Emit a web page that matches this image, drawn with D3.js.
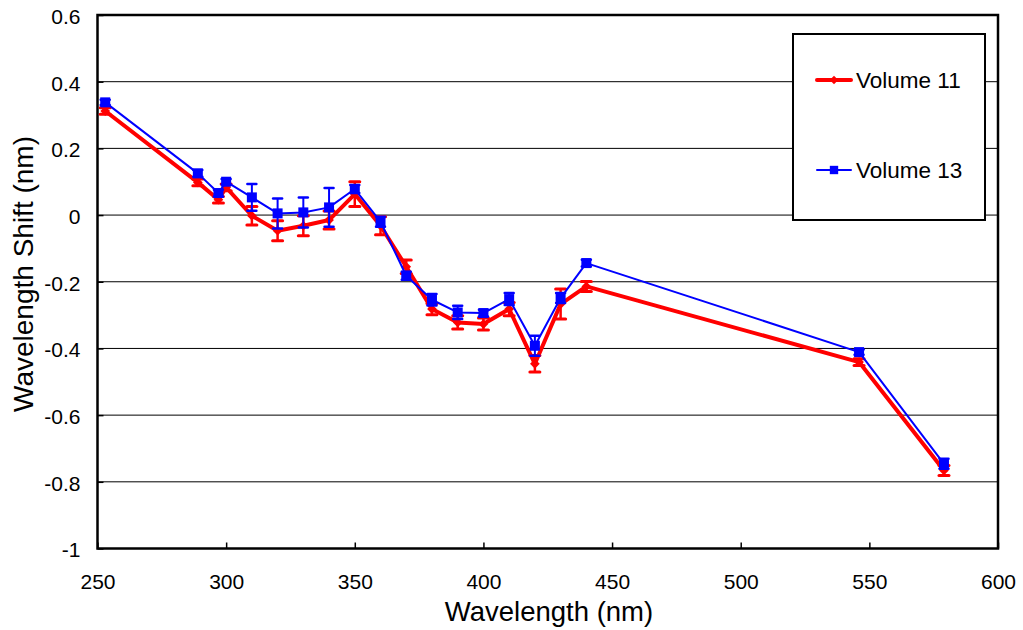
<!DOCTYPE html>
<html>
<head>
<meta charset="utf-8">
<script src="https://cdn.jsdelivr.net/npm/d3@7"></script>
<style>
  body { margin: 0; background: #fff; }
  text { font-family: "Liberation Sans", Arial, sans-serif; fill: #000; }
</style>
</head>
<body>
<div id="chart"></div>
<script>
// wavelengths (nm) and measured shifts
var wavelengths = [253, 289, 297, 300, 310, 320, 330, 340, 350, 360, 370, 380, 390, 400, 410, 420, 430, 440, 546, 579];
var vol11 = [0.312, 0.098, 0.046, 0.083, -0.002, -0.047, -0.032, -0.015, 0.063, -0.032, -0.155, -0.282, -0.322, -0.327, -0.282, -0.446, -0.267, -0.214, -0.441, -0.766];
var err11 = [0.01, 0.01, 0.01, 0.01, 0.028, 0.03, 0.03, 0.027, 0.037, 0.027, 0.02, 0.017, 0.02, 0.018, 0.02, 0.025, 0.045, 0.015, 0.01, 0.015];
var vol13 = [0.338, 0.125, 0.066, 0.1, 0.053, 0.005, 0.008, 0.023, 0.078, -0.02, -0.182, -0.254, -0.292, -0.294, -0.252, -0.392, -0.249, -0.144, -0.411, -0.746];
var err13 = [0.008, 0.01, 0.01, 0.008, 0.04, 0.045, 0.045, 0.058, 0.012, 0.015, 0.012, 0.017, 0.02, 0.01, 0.018, 0.03, 0.015, 0.01, 0.008, 0.015];
var xTicks = [250, 300, 350, 400, 450, 500, 550, 600];
var yTicks = [-1, -0.8, -0.6, -0.4, -0.2, 0, 0.2, 0.4, 0.6];
var seriesNames = ["Volume 11", "Volume 13"];

var svg = d3.select("#chart").append("svg")
  .attr("width", 1023)
  .attr("height", 630);

var plotLeft = 97.5, plotRight = 998, plotTop = 15, plotBottom = 548.5;

var x = d3.scaleLinear().domain([250, 600]).range([plotLeft, plotRight]);
var y = d3.scaleLinear().domain([-1, 0.6]).range([plotBottom, plotTop]);

// horizontal gridlines
svg.append("g").selectAll("line")
  .data(yTicks)
  .enter().append("line")
  .attr("x1", plotLeft).attr("x2", plotRight)
  .attr("y1", function(d) { return y(d); })
  .attr("y2", function(d) { return y(d); })
  .attr("stroke", "#000")
  .attr("stroke-width", 1);

// axes (ticks point inward)
var xAxis = d3.axisBottom(x).tickValues(xTicks).tickSizeInner(-6).tickSizeOuter(0).tickPadding(0).tickFormat(d3.format("d"));
var gx = svg.append("g").attr("transform", "translate(0," + plotBottom + ")").call(xAxis);
gx.select(".domain").remove();
gx.selectAll("line").attr("stroke", "#000").attr("stroke-width", 1.5);
gx.selectAll("text").attr("y", 40).attr("dy", 0).style("font-size", "21px")
  .style("font-family", "Liberation Sans, Arial, sans-serif");

var yAxis = d3.axisLeft(y).tickValues(yTicks).tickSizeInner(-6).tickSizeOuter(0).tickPadding(0)
  .tickFormat(function(d) { return String(+d.toFixed(1)); });
var gy = svg.append("g").attr("transform", "translate(" + plotLeft + ",0)").call(yAxis);
gy.select(".domain").remove();
gy.selectAll("line").attr("stroke", "#000").attr("stroke-width", 1.5);
gy.selectAll("text").attr("x", -17).attr("dy", "0.4em").style("font-size", "21px")
  .style("font-family", "Liberation Sans, Arial, sans-serif");

// frame
svg.append("rect")
  .attr("x", plotLeft).attr("y", plotTop)
  .attr("width", plotRight - plotLeft).attr("height", plotBottom - plotTop)
  .attr("fill", "none").attr("stroke", "#000").attr("stroke-width", 2.5);

// axis titles
svg.append("text")
  .attr("x", 549).attr("y", 621)
  .attr("text-anchor", "middle")
  .style("font-size", "27.5px")
  .text("Wavelength (nm)");

svg.append("text")
  .attr("transform", "translate(33,274) rotate(-90)")
  .attr("text-anchor", "middle")
  .style("font-size", "28px")
  .text("Wavelength Shift (nm)");

var line = d3.line()
  .x(function(d) { return x(d.w); })
  .y(function(d) { return y(d.v); });

function makeData(vals, errs) {
  return wavelengths.map(function(w, i) { return { w: w, v: vals[i], e: errs[i] }; });
}

function drawSeries(data, color, lw, ew, cap, marker, msize) {
  var g = svg.append("g");
  // error bars
  var eb = g.selectAll(".eb").data(data).enter().append("g");
  eb.append("line")
    .attr("x1", function(d) { return x(d.w); }).attr("x2", function(d) { return x(d.w); })
    .attr("y1", function(d) { return y(d.v + d.e); }).attr("y2", function(d) { return y(d.v - d.e); })
    .attr("stroke", color).attr("stroke-width", ew);
  [1, -1].forEach(function(s) {
    eb.append("line")
      .attr("x1", function(d) { return x(d.w) - cap / 2; }).attr("x2", function(d) { return x(d.w) + cap / 2; })
      .attr("y1", function(d) { return y(d.v + s * d.e); }).attr("y2", function(d) { return y(d.v + s * d.e); })
      .attr("stroke", color).attr("stroke-width", ew + 0.5)
      .attr("stroke-linecap", "round");
  });
  g.append("path")
    .datum(data)
    .attr("fill", "none")
    .attr("stroke", color)
    .attr("stroke-width", lw)
    .attr("stroke-linejoin", "round")
    .attr("d", line);
  g.selectAll(".mk").data(data).enter().append("path")
    .attr("transform", function(d) { return "translate(" + x(d.w) + "," + y(d.v) + ")"; })
    .attr("d", d3.symbol().type(marker).size(msize))
    .attr("fill", color);
}

drawSeries(makeData(vol11, err11), "#ff0000", 4, 2.5, 10, d3.symbolDiamond2, 60);
drawSeries(makeData(vol13, err13), "#0000ff", 2, 2, 9, d3.symbolSquare, 100);

// legend
var legend = svg.append("g");
legend.append("rect")
  .attr("x", 793).attr("y", 34).attr("width", 192).attr("height", 186)
  .attr("fill", "#fff").attr("stroke", "#000").attr("stroke-width", 2);

var legendItems = [
  { name: seriesNames[0], color: "#ff0000", lw: 4, marker: d3.symbolDiamond2, size: 45, ly: 80 },
  { name: seriesNames[1], color: "#0000ff", lw: 2, marker: d3.symbolSquare, size: 70, ly: 170 }
];
legendItems.forEach(function(it) {
  legend.append("line")
    .attr("x1", 817).attr("x2", 851).attr("y1", it.ly).attr("y2", it.ly)
    .attr("stroke", it.color).attr("stroke-width", it.lw).attr("stroke-linecap", "round");
  legend.append("path")
    .attr("transform", "translate(834," + it.ly + ")")
    .attr("d", d3.symbol().type(it.marker).size(it.size))
    .attr("fill", it.color);
  legend.append("text")
    .attr("x", 856).attr("y", it.ly).attr("dy", "0.36em")
    .style("font-size", "22.5px")
    .text(it.name);
});
</script>
</body>
</html>
